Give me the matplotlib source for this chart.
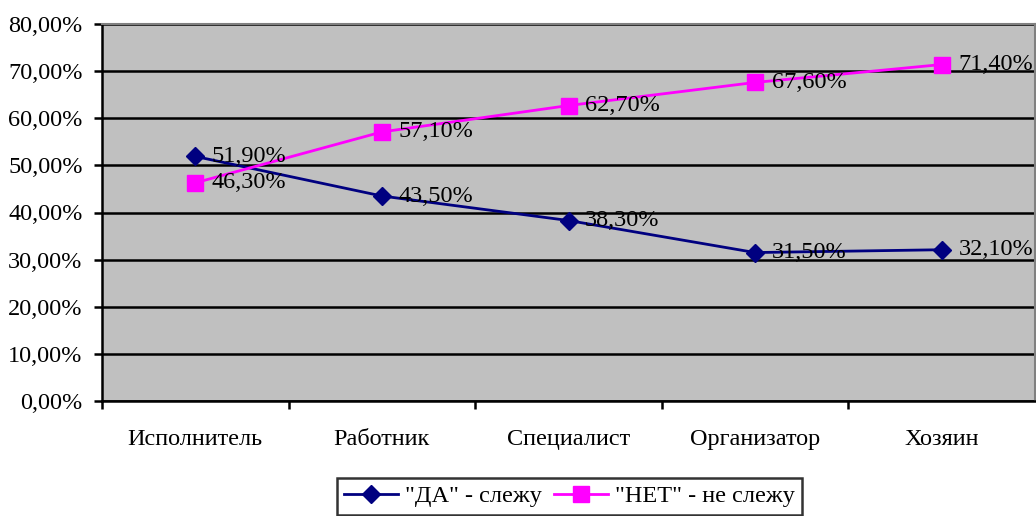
import matplotlib.pyplot as plt
import numpy as np
from matplotlib.ticker import FixedLocator, FuncFormatter

plt.rcParams['font.family'] = ['Liberation Serif', 'DejaVu Serif']

categories = ["Исполнитель", "Работник", "Специалист", "Организатор", "Хозяин"]
da = [51.9, 43.5, 38.3, 31.5, 32.1]
net = [46.3, 57.1, 62.7, 67.6, 71.4]
label_da = '"ДА" - слежу'
label_net = '"НЕТ" - не слежу'

fs = 17.5

fig = plt.figure(figsize=(10.36, 5.16), dpi=100)
ax = fig.add_axes([102 / 1036, 1 - 401 / 516, 933 / 1036, 377 / 516])
ax.set_facecolor("#C0C0C0")

x = np.arange(len(categories))
ax.plot(x, da, color="#000080", lw=2, marker="D", ms=9.5, mfc="#000080", mec="#000080", label=label_da)
ax.plot(x, net, color="#FF00FF", lw=2, marker="s", ms=11, mfc="#FF00FF", mec="#FF00FF", label=label_net)

for xi, v in zip(x, da):
    ax.annotate(f"{v:.2f}%".replace(".", ","), (xi, v), xytext=(12, 0), textcoords="offset points",
                ha="left", va="center", fontsize=fs)
for xi, v in zip(x, net):
    ax.annotate(f"{v:.2f}%".replace(".", ","), (xi, v), xytext=(12, 0), textcoords="offset points",
                ha="left", va="center", fontsize=fs)

ax.set_xlim(-0.5, len(categories) - 0.5)
ax.set_ylim(0, 80)
ax.set_yticks(np.arange(0, 81, 10))
ax.yaxis.set_major_formatter(FuncFormatter(lambda v, p: f"{v:.2f}%".replace(".", ",")))
ax.grid(axis="y", color="black", lw=1.8)
ax.set_axisbelow(True)

ax.xaxis.set_major_locator(FixedLocator(np.arange(-0.5, len(categories) - 0.5, 1.0)))
ax.xaxis.set_major_formatter(FuncFormatter(lambda v, p: ""))
ax.set_xticks(x, minor=True)
ax.set_xticklabels(categories, minor=True)
ax.tick_params(axis="x", which="minor", length=0, pad=20, labelsize=fs)
ax.tick_params(axis="x", which="major", direction="out", length=6, width=1.8)
ax.tick_params(axis="y", direction="out", length=6, width=1.8, labelsize=fs, pad=8)

for side in ["left", "bottom"]:
    ax.spines[side].set_color("black")
    ax.spines[side].set_linewidth(1.8)
for side in ["top", "right"]:
    ax.spines[side].set_color("#808080")
    ax.spines[side].set_linewidth(1.5)

leg = fig.legend(loc="upper left", bbox_to_anchor=(337 / 1036, 1 - 478 / 516), ncol=2, fontsize=fs,
                 frameon=True, fancybox=False, edgecolor="black", borderaxespad=0, handlelength=2.2,
                 handletextpad=0.3, columnspacing=0.5, borderpad=0.3)
leg.get_frame().set_linewidth(1.8)

fig.savefig("out.png", dpi=100)
